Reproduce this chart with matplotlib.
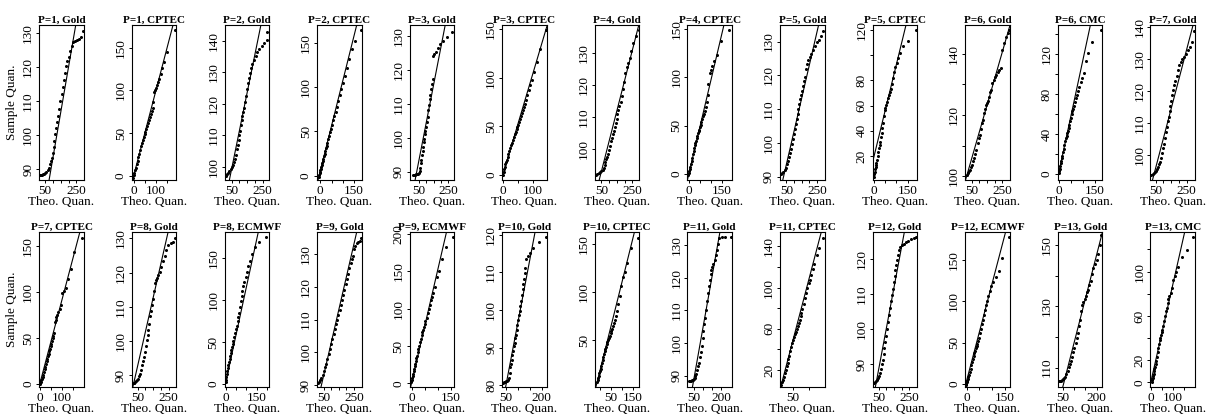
import matplotlib
matplotlib.use("Agg")
import matplotlib.pyplot as plt

plt.rcParams['font.family'] = ['Liberation Serif', 'DejaVu Serif']

titles = ["P=1, Gold", "P=1, CPTEC", "P=2, Gold", "P=2, CPTEC", "P=3, Gold", "P=3, CPTEC",
          "P=4, Gold", "P=4, CPTEC", "P=5, Gold", "P=5, CPTEC", "P=6, Gold", "P=6, CMC", "P=7, Gold",
          "P=7, CPTEC", "P=8, Gold", "P=8, ECMWF", "P=9, Gold", "P=9, ECMWF", "P=10, Gold",
          "P=10, CPTEC", "P=11, Gold", "P=11, CPTEC", "P=12, Gold", "P=12, ECMWF", "P=13, Gold", "P=13, CMC"]

# ---- QQ points (theoretical x, sample y) and reference lines (x1, y1, x2, y2) ----
p1_gold_x = [17, 24, 31, 38, 45, 52, 59, 66, 73, 80, 86, 92, 98, 104, 110, 116, 122, 128, 134, 141, 148, 155, 162, 169, 177, 185, 193, 201, 210, 219, 229, 240, 252, 266, 280, 293]
p1_gold_y = [88.3, 88.4, 88.5, 88.6, 88.8, 89.1, 89.4, 89.9, 90.5, 91.5, 92.4, 93.4, 94.8, 96.6, 98.4, 100.4, 102.3, 104.1, 105.8, 107.8, 110.0, 112.3, 114.4, 116.4, 118.4, 120.5, 121.9, 123.2, 124.9, 126.4, 127.4, 127.9, 128.2, 128.5, 129.0, 130.8]
p1_gold_line = [75.8, 86.9, 245.7, 132.5]

p1_cptec_x = [-2, 1, 4, 7, 10, 14, 18, 22, 26, 30, 34, 38, 42, 46, 50, 54, 58, 62, 66, 70, 74, 78, 82, 86, 89, 92, 96, 101, 106, 111, 117, 123, 130, 138, 150, 189]
p1_cptec_y = [-2.5, 1.0, 4.0, 7.0, 9.5, 13.5, 17.5, 22.0, 26.0, 30.0, 34.5, 38.5, 42.5, 46.0, 49.5, 52.0, 55.0, 58.0, 62.0, 65.5, 68.5, 72.0, 76.0, 80.0, 86.0, 98.0, 100.5, 103.0, 106.5, 110.0, 114.0, 119.0, 126.0, 133.0, 145.0, 171.0]
p1_cptec_line = [-4.5, -4.7, 179, 176.9]

p2_gold_x = [12, 20, 28, 36, 44, 52, 60, 67, 73, 79, 85, 90, 95, 100, 105, 110, 115, 120, 125, 130, 136, 142, 148, 154, 160, 167, 175, 184, 194, 205, 217, 230, 245, 262, 278, 282]
p2_gold_y = [97.1, 97.6, 98.1, 98.6, 99.2, 99.9, 100.6, 101.4, 102.4, 103.8, 105.5, 107.0, 108.6, 110.0, 111.4, 113.1, 114.7, 116.2, 117.4, 118.6, 120.6, 122.6, 124.8, 126.6, 128.2, 129.7, 131.2, 132.6, 133.9, 135.2, 136.3, 137.3, 138.2, 139.4, 140.2, 142.9]
p2_gold_line = [35.3, 95.8, 239.5, 145]

p2_cptec_x = [-7, -5, -3, -1, 1, 3, 5, 7, 9, 11, 14, 17, 20, 23, 26, 29, 32, 36, 40, 44, 48, 53, 58, 63, 68, 74, 80, 86, 93, 100, 108, 117, 127, 139, 152, 179]
p2_cptec_y = [-1, 1, 2.5, 4.5, 6, 8, 10, 12, 14, 16, 19, 22, 25, 28, 31, 34, 37, 41, 45, 49, 53, 57.5, 62.5, 67, 72, 78, 84, 90.5, 98, 105, 113, 122, 132, 143, 152, 164]
p2_cptec_line = [-10, -4.9, 161.4, 170]

p3_gold_x = [8, 15, 22, 29, 36, 43, 50, 55, 59, 63, 67, 71, 75, 79, 83, 87, 91, 95, 99, 104, 109, 114, 119, 124, 129, 134, 139, 143, 148, 156, 165, 178, 195, 215, 240, 275]
p3_gold_y = [89.0, 89.1, 89.2, 89.3, 89.3, 89.4, 89.6, 90.3, 91.2, 92.5, 93.6, 95.0, 96.2, 97.4, 98.7, 99.8, 101.0, 102.1, 103.2, 104.7, 106.2, 108.2, 109.8, 111.5, 112.6, 114.3, 115.9, 117.3, 124.2, 124.6, 125.2, 126.3, 127.5, 128.5, 129.8, 131.0]
p3_gold_line = [24.7, 87.6, 229, 133.2]

p3_cptec_x = [0, 2, 4, 6, 8, 10, 12, 15, 18, 21, 24, 27, 30, 33, 36, 39, 42, 45, 48, 51, 54, 57, 60, 63, 66, 69, 72, 76, 80, 85, 90, 96, 103, 112, 124, 142]
p3_cptec_y = [0, 3.5, 6, 8.5, 11, 13, 15, 18.5, 21.5, 24.5, 27.5, 30.5, 33.5, 36.5, 39.5, 42, 44.5, 47, 49.5, 52, 55, 58, 61, 64, 67, 70, 73, 77.5, 82, 87.5, 92.5, 98, 106, 116, 130, 149]
p3_cptec_line = [-2.6, -1.7, 142.3, 149]

p4_gold_x = [13, 22, 31, 40, 49, 57, 64, 70, 76, 82, 88, 94, 100, 106, 112, 118, 124, 130, 136, 142, 148, 154, 160, 167, 174, 181, 189, 197, 205, 214, 223, 233, 244, 256, 272, 293]
p4_gold_y = [91.8, 92.1, 92.4, 92.7, 93.0, 93.5, 94.2, 95.0, 96.1, 96.9, 97.6, 98.4, 99.8, 101.0, 102.4, 103.4, 104.7, 105.8, 107.0, 108.1, 109.4, 111.0, 112.3, 113.6, 114.8, 116.7, 118.9, 121.0, 123.7, 125.6, 127.0, 128.6, 130.8, 133.2, 135.3, 137.3]
p4_gold_line = [35, 90.3, 293, 138.9]

p4_cptec_x = [-3, -1, 1, 3, 5, 8, 11, 14, 17, 20, 23, 26, 29, 32, 35, 38, 41, 44, 47, 50, 53, 56, 60, 64, 68, 72, 76, 80, 84, 88, 93, 99, 106, 115, 127, 147, 184]
p4_cptec_y = [-1, 1, 3, 5, 7, 10, 13.5, 17, 20.5, 24, 27, 29.5, 32, 34.5, 37, 39.5, 42, 44, 46, 48.5, 51, 53.5, 56.5, 59.5, 62.5, 65.5, 69, 74, 82, 93, 104, 108, 112, 117, 123, 138, 149]
p4_cptec_line = [-4.4, -2.8, 158.8, 154.1]

p5_gold_x = [13, 22, 31, 40, 48, 56, 63, 69, 75, 81, 87, 93, 99, 105, 111, 117, 123, 129, 135, 141, 147, 153, 159, 165, 171, 178, 186, 194, 203, 213, 224, 236, 249, 263, 278, 289]
p5_gold_y = [90.9, 91.2, 91.5, 91.9, 92.6, 93.6, 94.7, 95.9, 97.0, 98.3, 99.7, 101.0, 102.7, 104.1, 105.5, 107.1, 108.6, 110.0, 111.5, 113.0, 114.3, 115.5, 116.9, 118.2, 119.6, 121.8, 123.4, 124.5, 125.4, 126.3, 127.4, 128.7, 130.0, 130.6, 131.6, 133.0]
p5_gold_line = [28.5, 89.4, 260.8, 135]

p5_cptec_x = [0, 2, 4, 6, 8, 10, 12, 14, 17, 20, 23, 26, 29, 32, 35, 38, 41, 44, 48, 52, 56, 60, 64, 68, 72, 76, 80, 85, 90, 95, 101, 108, 117, 128, 150, 188]
p5_cptec_y = [3.6, 5.5, 7.5, 9.5, 11.0, 13.0, 14.5, 16.5, 20.0, 23.0, 26.5, 29.0, 31.5, 35.0, 38.5, 42.0, 46.0, 52.0, 56.5, 58.5, 60.5, 63.0, 66.0, 68.5, 71.0, 73.5, 77.0, 82.0, 86.5, 91.0, 94.0, 98.0, 102.0, 107.0, 111.5, 120.0]
p5_cptec_line = [-4.5, 15.5, 142.5, 124]

p6_gold_x = [17, 24, 31, 38, 45, 52, 59, 66, 73, 80, 87, 94, 101, 108, 115, 122, 129, 136, 143, 150, 157, 164, 171, 178, 185, 193, 201, 210, 220, 230, 240, 250, 262, 275, 287, 296]
p6_gold_y = [100.3, 100.9, 101.5, 102.0, 102.8, 103.7, 104.9, 105.8, 107.3, 108.6, 110.8, 112.5, 113.3, 115.4, 117.3, 118.3, 120.5, 122.0, 123.2, 123.9, 124.7, 126.0, 127.4, 128.2, 130.4, 131.6, 132.3, 133.1, 134.0, 134.8, 135.3, 141.2, 143.5, 145.7, 146.8, 147.9]
p6_gold_line = [10.9, 99.2, 300, 149.2]

p6_cmc_x = [0, 2, 4, 6, 8, 10, 12, 14, 17, 20, 23, 26, 29, 32, 35, 38, 41, 44, 47, 50, 53, 56, 59, 62, 65, 69, 73, 78, 84, 90, 97, 105, 113, 122, 137, 176]
p6_cmc_y = [0.7, 3, 5.5, 8, 11, 13.5, 16, 18.5, 22, 25.5, 29.5, 33, 36.5, 38.5, 41, 43.5, 46.5, 49.5, 53, 56.5, 60, 63, 65.5, 68.5, 72, 76, 79.5, 83, 87.5, 92, 96.5, 101, 113, 121, 132, 144]
p6_cmc_line = [-3.9, -2.7, 130.4, 149]

p7_gold_x = [24, 32, 40, 48, 55, 62, 68, 74, 80, 86, 92, 98, 104, 110, 116, 122, 128, 134, 140, 146, 152, 158, 164, 171, 178, 186, 194, 203, 212, 222, 233, 245, 258, 272, 287, 297]
p7_gold_y = [93.8, 94.1, 94.4, 94.7, 95.0, 95.6, 96.4, 97.2, 97.9, 99.2, 100.6, 102.2, 103.6, 105.3, 107.1, 108.8, 110.5, 112.0, 113.8, 115.3, 117.0, 118.6, 120.3, 121.8, 123.2, 124.7, 126.4, 128.0, 128.9, 129.9, 130.7, 131.6, 132.6, 133.8, 135.2, 138.5]
p7_gold_line = [30.6, 92.3, 288.7, 140]

p7_cptec_x = [0, 3, 6, 9, 12, 15, 18, 21, 24, 27, 30, 33, 36, 39, 42, 45, 48, 51, 54, 57, 60, 63, 66, 70, 74, 78, 83, 88, 94, 100, 107, 115, 124, 140, 155, 187]
p7_cptec_y = [0, 2, 4, 6, 8, 10, 13, 16, 18.5, 21.5, 24.5, 27, 30, 32.5, 35.5, 38.5, 41, 43.5, 46.5, 49.5, 52, 55, 67.5, 70, 72.5, 75, 78.5, 82, 86, 99, 101, 104, 114, 125, 143, 159]
p7_cptec_line = [-3, -1.8, 179, 164.9]

p8_gold_x = [24, 30, 36, 42, 48, 54, 60, 66, 72, 78, 84, 90, 96, 102, 108, 114, 120, 126, 132, 138, 144, 150, 156, 162, 168, 176, 184, 193, 202, 212, 223, 235, 248, 263, 280, 293]
p8_gold_y = [87.6, 87.8, 88.0, 88.3, 88.6, 89.0, 89.6, 90.4, 91.5, 92.9, 94.0, 95.2, 96.8, 98.5, 100.2, 101.8, 103.3, 104.9, 107.2, 108.8, 110.4, 112.4, 114.7, 116.9, 117.9, 118.4, 119.3, 120.3, 121.7, 123.4, 125.0, 126.6, 128.2, 128.8, 129.0, 130.0]
p8_gold_line = [19.9, 86.6, 245.7, 131.8]

p8_ecmwf_x = [-3, -1, 1, 3, 5, 8, 11, 14, 17, 20, 23, 26, 29, 32, 36, 40, 44, 48, 52, 56, 60, 64, 68, 72, 76, 80, 85, 90, 96, 102, 109, 117, 127, 140, 160, 198]
p8_ecmwf_y = [2.8, 5, 8, 11.5, 15, 19, 23, 26.5, 30, 33.5, 37, 40.5, 44, 47.5, 51.5, 56, 60.5, 65, 69.5, 74.5, 79.5, 85, 92, 99, 105, 111, 117, 121.5, 127, 133, 140, 146, 155, 163, 169, 175.4]
p8_ecmwf_line = [-6.5, -3.2, 158, 180.6]

p9_gold_x = [11, 19, 27, 35, 43, 51, 59, 67, 75, 83, 91, 99, 107, 115, 123, 131, 139, 147, 155, 163, 171, 179, 187, 195, 203, 211, 219, 227, 235, 243, 251, 259, 268, 278, 289, 294]
p9_gold_y = [90.5, 91.0, 91.6, 92.2, 93.1, 94.2, 95.4, 96.5, 97.9, 99.6, 101.0, 102.5, 104.0, 105.5, 107.1, 108.6, 110.0, 111.5, 112.9, 114.5, 115.9, 117.4, 119.1, 120.9, 122.3, 123.8, 125.9, 127.3, 128.6, 129.6, 131.5, 132.6, 133.3, 133.7, 134.1, 135.1]
p9_gold_line = [32.6, 89.5, 267.4, 136.7]

p9_ecmwf_x = [-3, -1, 1, 3, 5, 7, 9, 11, 13, 15, 17, 19, 22, 25, 28, 31, 34, 37, 40, 43, 46, 49, 52, 56, 60, 64, 68, 72, 77, 82, 88, 95, 103, 115, 133, 159]
p9_ecmwf_y = [2, 4, 6.5, 9.5, 13, 16, 19.5, 23, 26.5, 30, 33.5, 37, 41.5, 46, 50.5, 55, 59.5, 64, 68, 72, 76, 79.5, 83, 88, 93.5, 99.5, 105, 111, 116, 121, 129, 142, 150, 166, 183, 195.5]
p9_ecmwf_line = [-5.2, -4.5, 133, 202]

p10_gold_x = [40, 44, 48, 52, 56, 60, 63, 66, 69, 72, 75, 78, 81, 84, 87, 90, 93, 96, 99, 102, 105, 108, 111, 114, 117, 120, 123, 126, 129, 132, 136, 141, 150, 165, 188, 217]
p10_gold_y = [80.7, 80.8, 80.9, 81.0, 81.2, 81.5, 82.0, 83.3, 84.8, 85.6, 86.8, 88.0, 89.2, 90.4, 91.3, 92.5, 93.4, 94.6, 95.9, 97.3, 98.6, 99.8, 101.0, 102.5, 104.0, 105.5, 107.0, 108.3, 109.8, 111.3, 113.7, 114.4, 115.3, 116.4, 118.2, 119.4]
p10_gold_line = [50, 79.6, 172, 120.7]

p10_cptec_x = [-15, -12, -9, -6, -3, 0, 3, 6, 9, 12, 15, 18, 21, 24, 27, 30, 33, 36, 40, 44, 48, 52, 56, 60, 64, 68, 73, 78, 84, 90, 97, 105, 114, 125, 140, 173]
p10_cptec_y = [6.4, 8, 10, 12.5, 15, 17.5, 20, 23, 26, 29.5, 32.5, 35, 38, 40.5, 43, 45.5, 47.5, 49.5, 52, 54.5, 57, 59.5, 62, 64.5, 67.5, 70.5, 75, 80.5, 88, 96, 106, 116, 121, 130, 146, 157]
p10_cptec_line = [-19.2, 1.2, 157.7, 162.5]

p11_gold_x = [22, 27, 32, 37, 42, 47, 52, 57, 62, 67, 72, 77, 82, 87, 92, 97, 102, 107, 112, 117, 122, 127, 132, 137, 142, 147, 152, 158, 164, 170, 177, 184, 191, 205, 225, 256]
p11_gold_y = [88.2, 88.3, 88.4, 88.6, 88.8, 89.0, 89.4, 89.9, 90.6, 91.8, 93.0, 94.0, 95.6, 97.2, 99.2, 101.6, 103.6, 105.8, 107.6, 110.2, 112.8, 115.4, 117.5, 119.4, 121.2, 122.4, 123.2, 124.3, 125.5, 126.8, 128.6, 130.4, 132.3, 132.5, 132.5, 132.6]
p11_gold_line = [40.6, 86.6, 194, 133.9]

p11_cptec_x = [11, 14, 17, 20, 23, 26, 29, 32, 35, 38, 41, 44, 47, 50, 53, 56, 59, 62, 65, 68, 71, 74, 77, 80, 84, 88, 92, 96, 100, 104, 108, 113, 119, 126, 135, 147]
p11_cptec_y = [5.4, 8, 10.5, 13.5, 17, 20, 23.5, 27, 30.5, 34, 38, 42, 46.5, 49.5, 52, 54.5, 57, 60, 62.5, 65.5, 68.5, 72, 75.5, 79, 84.5, 89.5, 95, 100, 104, 107.5, 112, 118, 123, 132, 138, 147.8]
p11_cptec_line = [10, 3.8, 141, 153.6]

p12_gold_x = [17, 24, 31, 38, 45, 51, 57, 63, 69, 75, 81, 87, 93, 99, 105, 111, 117, 123, 129, 135, 141, 147, 153, 159, 165, 171, 177, 183, 190, 200, 212, 226, 242, 260, 278, 294]
p12_gold_y = [84.6, 84.9, 85.2, 85.5, 86.0, 86.6, 87.5, 88.6, 90.0, 91.3, 92.9, 94.6, 96.3, 98.2, 100.2, 102.1, 104.0, 106.0, 108.0, 109.8, 111.6, 113.4, 115.2, 116.9, 118.4, 119.8, 121.2, 122.6, 123.6, 124.0, 124.3, 124.8, 125.3, 125.8, 126.2, 126.5]
p12_gold_line = [27.8, 83.6, 216.7, 127.7]

p12_ecmwf_x = [-4, -2, 0, 2, 4, 6, 9, 12, 15, 18, 21, 24, 27, 30, 33, 36, 39, 42, 45, 48, 52, 56, 60, 64, 68, 72, 76, 80, 85, 90, 96, 104, 114, 127, 141, 167]
p12_ecmwf_y = [-1.2, 0.5, 2, 4, 6, 8, 11.5, 15, 18.5, 22.5, 26.5, 30.5, 34.5, 38, 40.5, 43, 45.5, 48, 51.5, 55.5, 61.5, 67, 72.5, 78, 84, 90, 95.5, 101, 107, 112.5, 118.5, 124, 129.5, 137, 153, 177.4]
p12_ecmwf_line = [-6.6, -2, 153.9, 183.5]

p13_gold_x = [31, 36, 41, 46, 51, 56, 61, 66, 71, 76, 81, 86, 91, 96, 101, 106, 111, 116, 121, 126, 131, 136, 141, 146, 151, 156, 161, 167, 173, 179, 185, 192, 199, 206, 214, 220]
p13_gold_y = [105.7, 105.7, 105.8, 106.0, 106.3, 106.6, 107.1, 107.8, 109.0, 110.2, 111.3, 112.2, 113.5, 115.0, 116.4, 118.1, 119.7, 121.4, 123.6, 125.5, 128.6, 130.5, 131.5, 132.4, 133.4, 134.6, 135.3, 136.8, 138.3, 140.5, 142.4, 143.9, 145.0, 146.9, 149.8, 153.3]
p13_gold_line = [50, 103.8, 224.7, 154.1]

p13_cmc_x = [3, 5, 7, 9, 11, 13, 15, 17, 20, 23, 26, 29, 32, 35, 38, 41, 44, 47, 50, 54, 58, 62, 66, 70, 74, 78, 83, 88, 94, 100, 106, 113, 122, 140, 162, 191]
p13_cmc_y = [0.6, 2.5, 3.6, 6, 8, 10, 12, 14, 16.5, 19, 23, 27, 31, 34.5, 38, 40.5, 43, 45.5, 47.5, 51, 55, 59.5, 64, 67.5, 71.5, 75, 78, 81, 85.5, 92, 96, 100, 104, 113, 119.6, 131.6]
p13_cmc_line = [-3, -0.9, 151.5, 135.5]

# ---- axis ranges and ticks ----
xlims = [[13.4, 297], [-7.5, 194], [3.7, 292], [-14, 183], [-12, 290], [-2.6, 146], [7, 297],
         [-7.4, 195.6], [9, 299.5], [-4.5, 192], [6.5, 300], [-3.9, 180], [17.7, 303.8],
         [-3, 197], [13.4, 299.5], [-8, 211], [6.5, 300], [-9, 163], [36, 221], [-24, 180.8],
         [12.5, 262], [7.8, 152], [10, 301], [-6.6, 171], [28.2, 224.7], [-3, 198.5]]
ylims = [[86.9, 132.5], [-4.7, 176.6], [95.8, 145], [-4.9, 170], [87.6, 133.2], [-5.1, 154.5],
         [90.3, 138.9], [-6.2, 154.1], [89, 134.9], [1, 124], [98.7, 149.5], [-6, 149], [92.3, 140.5],
         [-2.9, 164.9], [86.6, 131.8], [-3.2, 180.6], [89.5, 136.7], [-4.5, 202], [79.6, 120.7],
         [1.2, 162.5], [86.6, 133.9], [3.8, 153.6], [83.6, 127.7], [-3.2, 183.5], [103.8, 154.1], [-3.9, 135.5]]

gold_xt = [50, 100, 150, 200, 250]
gold_xl = ["50", "", "", "", "250"]
x0_150_t = [0, 50, 100, 150]
x0_150_l = ["0", "", "", "150"]
x0_100_l = ["0", "", "100", ""]
x50_200_t = [50, 100, 150, 200]
x50_200_l = ["50", "", "", "200"]

xticks = [gold_xt, x0_150_t, gold_xt, x0_150_t, gold_xt, [0, 50, 100], gold_xt, x0_150_t,
          gold_xt, x0_150_t, gold_xt, x0_150_t, gold_xt,
          x0_150_t, gold_xt, [0, 50, 100, 150, 200], gold_xt, x0_150_t, x50_200_t, x0_150_t,
          x50_200_t, [50, 100], gold_xt, x0_150_t, x50_200_t, x0_150_t]
xlabels = [gold_xl, x0_100_l, gold_xl, x0_150_l, gold_xl, ["0", "", "100"], gold_xl, x0_150_l,
           gold_xl, x0_150_l, gold_xl, x0_150_l, gold_xl,
           x0_100_l, gold_xl, ["0", "", "", "150", ""], gold_xl, x0_150_l, x50_200_l, ["", "50", "", "150"],
           x50_200_l, ["50", ""], gold_xl, x0_150_l, x50_200_l, x0_100_l]

yticks = [[90, 100, 110, 120, 130], [0, 50, 100, 150], [100, 110, 120, 130, 140], [0, 50, 100, 150],
          [90, 100, 110, 120, 130], [0, 50, 100, 150], [100, 110, 120, 130], [0, 50, 100, 150],
          [90, 100, 110, 120, 130], [20, 40, 60, 80, 100, 120], [100, 110, 120, 130, 140],
          [0, 20, 40, 60, 80, 100, 120, 140], [100, 110, 120, 130, 140],
          [0, 50, 100, 150], [90, 100, 110, 120, 130], [0, 50, 100, 150], [90, 100, 110, 120, 130],
          [0, 50, 100, 150, 200], [80, 90, 100, 110, 120], [50, 100, 150], [90, 100, 110, 120, 130],
          [20, 40, 60, 80, 100, 120, 140], [90, 100, 110, 120], [0, 50, 100, 150],
          [110, 120, 130, 140, 150], [0, 20, 40, 60, 80, 100, 120]]
ylabels = [None, None, None, None, None, None, None, None, None,
           ["20", "40", "60", "80", "", "120"], ["100", "", "120", "", "140"],
           ["0", "", "40", "", "80", "", "120", ""], None,
           None, None, None, None, None, None, None, None,
           ["20", "", "60", "", "100", "", "140"], None, None,
           ["110", "", "130", "", "150"], ["0", "20", "", "60", "", "100", ""]]

xs = [p1_gold_x, p1_cptec_x, p2_gold_x, p2_cptec_x, p3_gold_x, p3_cptec_x, p4_gold_x, p4_cptec_x,
      p5_gold_x, p5_cptec_x, p6_gold_x, p6_cmc_x, p7_gold_x, p7_cptec_x, p8_gold_x, p8_ecmwf_x,
      p9_gold_x, p9_ecmwf_x, p10_gold_x, p10_cptec_x, p11_gold_x, p11_cptec_x, p12_gold_x,
      p12_ecmwf_x, p13_gold_x, p13_cmc_x]
ys = [p1_gold_y, p1_cptec_y, p2_gold_y, p2_cptec_y, p3_gold_y, p3_cptec_y, p4_gold_y, p4_cptec_y,
      p5_gold_y, p5_cptec_y, p6_gold_y, p6_cmc_y, p7_gold_y, p7_cptec_y, p8_gold_y, p8_ecmwf_y,
      p9_gold_y, p9_ecmwf_y, p10_gold_y, p10_cptec_y, p11_gold_y, p11_cptec_y, p12_gold_y,
      p12_ecmwf_y, p13_gold_y, p13_cmc_y]
lines = [p1_gold_line, p1_cptec_line, p2_gold_line, p2_cptec_line, p3_gold_line, p3_cptec_line,
         p4_gold_line, p4_cptec_line, p5_gold_line, p5_cptec_line, p6_gold_line, p6_cmc_line,
         p7_gold_line, p7_cptec_line, p8_gold_line, p8_ecmwf_line, p9_gold_line, p9_ecmwf_line,
         p10_gold_line, p10_cptec_line, p11_gold_line, p11_cptec_line, p12_gold_line,
         p12_ecmwf_line, p13_gold_line, p13_cmc_line]

W, H = 1213, 418
fig = plt.figure(figsize=(W / 100, H / 100), dpi=100)
col_left0, col_step, ax_w = 39.3, 92.6, 44.5
rows = [(25, 180), (232.3, 386.7)]

for i in range(len(titles)):
    r, c = divmod(i, 13)
    top, bot = rows[r]
    left = col_left0 + c * col_step
    ax = fig.add_axes([left / W, 1 - bot / H, ax_w / W, (bot - top) / H])
    ax.plot(xs[i], ys[i], 'o', ms=2.2, color='black', mew=0)
    l = lines[i]
    ax.axline((l[0], l[1]), (l[2], l[3]), color='black', lw=0.8)
    ax.set_xlim(xlims[i])
    ax.set_ylim(ylims[i])
    ax.set_xticks(xticks[i])
    ax.set_xticklabels(xlabels[i])
    ax.set_yticks(yticks[i])
    yl = ylabels[i] if ylabels[i] is not None else [str(v) for v in yticks[i]]
    ax.set_yticklabels(yl, rotation=90, va='center')
    ax.tick_params(direction='out', length=2.5, width=0.7, pad=1.2, labelsize=9.5, colors='black')
    ax.set_title(titles[i], fontsize=8, fontweight='bold', pad=1.5)
    ax.set_xlabel('Theo. Quan.', fontsize=9.5, labelpad=-0.5)
    if c == 0:
        ax.set_ylabel('Sample Quan.', fontsize=9.5, labelpad=3)
    for s in ax.spines.values():
        s.set_linewidth(0.8)

fig.savefig('out.png', dpi=100)
